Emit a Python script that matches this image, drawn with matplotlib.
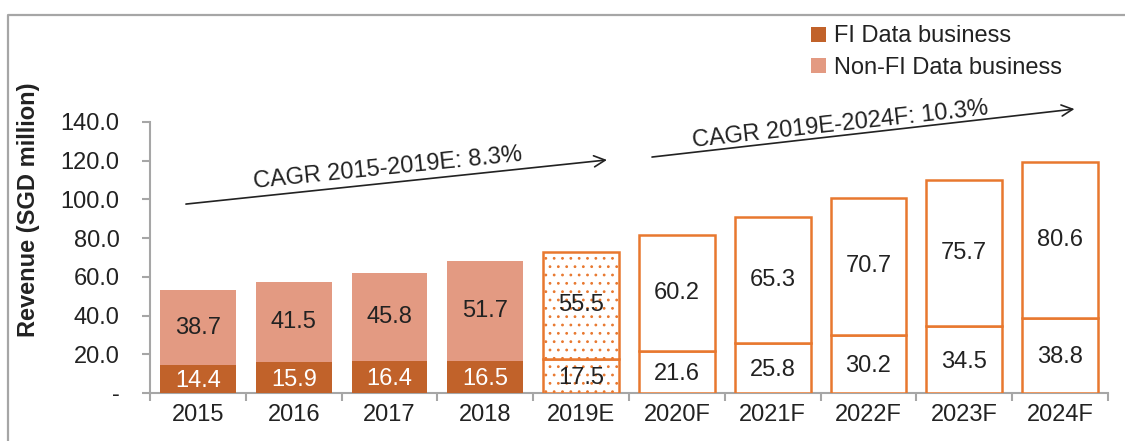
import matplotlib
matplotlib.use("Agg")
import matplotlib.pyplot as plt
from matplotlib.lines import Line2D
import numpy as np

plt.rcParams['font.family'] = ['Liberation Sans', 'DejaVu Sans']
plt.rcParams['hatch.linewidth'] = 0.8
plt.rcParams['hatch.color'] = "#E8782F"

years = ["2015", "2016", "2017", "2018", "2019E", "2020F", "2021F", "2022F", "2023F", "2024F"]
fi_data = [14.4, 15.9, 16.4, 16.5, 17.5, 21.6, 25.8, 30.2, 34.5, 38.8]
non_fi_data = [38.7, 41.5, 45.8, 51.7, 55.5, 60.2, 65.3, 70.7, 75.7, 80.6]
yticks = [0, 20, 40, 60, 80, 100, 120, 140]
ytick_labels = ["-", "20.0", "40.0", "60.0", "80.0", "100.0", "120.0", "140.0"]
cagr_labels = ["CAGR 2015-2019E: 8.3%", "CAGR 2019E-2024F: 10.3%"]

C_FI = "#C1622A"
C_NONFI = "#E39A82"
C_EDGE = "#E8782F"
C_AX = "#A6A6A6"
C_TXT = "#222222"
FS = 17

W, H = 1125, 441
fig = plt.figure(figsize=(W / 100, H / 100), dpi=100)
ax = fig.add_axes([150 / W, 1 - 393 / H, (1108 - 150) / W, (393 - 122) / H])

x = np.arange(len(years))
bw = 0.79
for i, (fi, nf, yr) in enumerate(zip(fi_data, non_fi_data, years)):
    if yr.endswith("E"):
        for b, h in ((0, fi), (fi, nf)):
            ax.bar(i, h, bottom=b, width=bw, facecolor="white", edgecolor=C_EDGE,
                   hatch="..", linewidth=1.8, zorder=3)
        fc = C_TXT
    elif yr.endswith("F"):
        for b, h in ((0, fi), (fi, nf)):
            ax.bar(i, h, bottom=b, width=bw, facecolor="white", edgecolor=C_EDGE,
                   linewidth=1.8, zorder=3)
        fc = C_TXT
    else:
        ax.bar(i, fi, width=bw, color=C_FI, zorder=3, label="FI Data business" if i == 0 else None)
        ax.bar(i, nf, bottom=fi, width=bw, color=C_NONFI, zorder=3,
               label="Non-FI Data business" if i == 0 else None)
        fc = "white"
    ax.text(i, fi / 2 - 1, f"{fi:.1f}", ha="center", va="center", fontsize=FS, color=fc, zorder=5)
    ax.text(i, fi + nf / 2, f"{nf:.1f}", ha="center", va="center", fontsize=FS, color=C_TXT, zorder=5)

ax.set_xlim(-0.5, len(years) - 0.5)
ax.set_ylim(0, 140)
ax.set_yticks(yticks)
ax.set_yticklabels(ytick_labels, fontsize=FS, color=C_TXT)
ax.set_xticks(x)
ax.set_xticklabels(years, fontsize=FS, color=C_TXT)
ax.set_xticks(np.arange(-0.5, len(years), 1.0), minor=True)
ax.tick_params(axis="x", which="major", length=0, pad=8)
ax.tick_params(axis="x", which="minor", length=6, color=C_AX, width=1.5, direction="out")
ax.tick_params(axis="y", length=6, color=C_AX, width=1.5, pad=16)
for s in ("top", "right"):
    ax.spines[s].set_visible(False)
for s in ("left", "bottom"):
    ax.spines[s].set_color(C_AX)
    ax.spines[s].set_linewidth(1.5)

# CAGR arrows
arrows = [((-0.125, 97.6), (4.27, 120.4)), ((4.74, 121.9), (9.15, 146.7))]
text_pos = [(1.98, 116.0), (6.70, 138.5)]
angles = [5.8, 6.3]
for (start, end), lab, tp, ang in zip(arrows, cagr_labels, text_pos, angles):
    ax.annotate("", xy=end, xytext=start, xycoords="data", annotation_clip=False,
                arrowprops=dict(arrowstyle="->,head_length=0.8,head_width=0.4",
                                color="#222222", lw=1.2, shrinkA=0, shrinkB=0))
    ax.text(tp[0], tp[1], lab, rotation=ang, rotation_mode="anchor", ha="center", va="center",
            fontsize=FS, color=C_TXT, clip_on=False)

fig.text(29 / W, 1 - 210 / H, "Revenue (SGD million)", rotation=90, ha="center", va="center",
         fontsize=FS, fontweight="bold", color=C_TXT)

leg = fig.legend(loc="upper left", bbox_to_anchor=(802 / W, 1 - 16 / H), frameon=False,
                 fontsize=FS, handlelength=0.6, handleheight=0.6, handletextpad=0.35,
                 labelspacing=0.4, borderaxespad=0)
for t in leg.get_texts():
    t.set_color(C_TXT)

# figure border (top and left)
fig.add_artist(Line2D([8 / W, 8 / W, 1.0], [0.0, 1 - 15 / H, 1 - 15 / H], transform=fig.transFigure,
                      color=C_AX, lw=1.6))

fig.savefig("out.png", dpi=100)
